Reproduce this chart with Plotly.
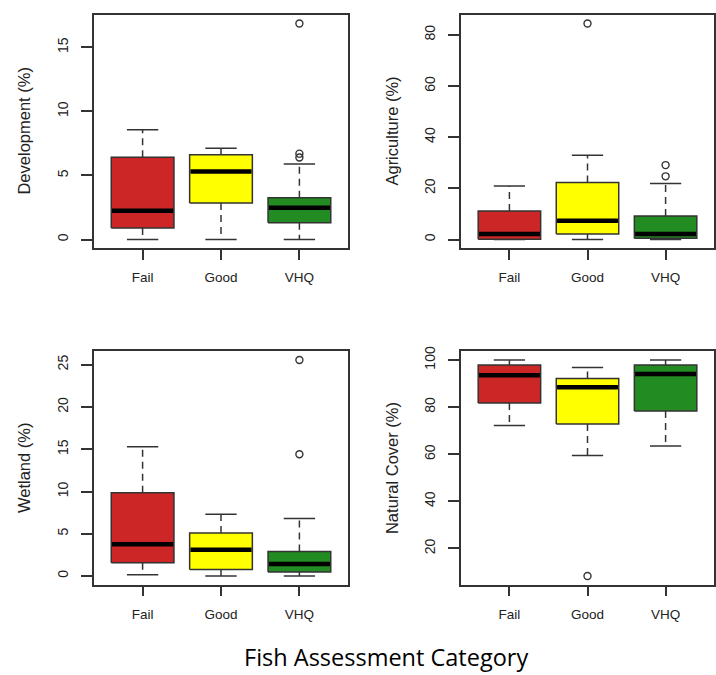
import plotly.graph_objects as go

categories = ["Fail", "Good", "VHQ"]
box_colors = ["#CD2626", "#FFFF00", "#228B22"]

# Development (%)
dev_lower = [0.0, 0.0, 0.0]
dev_q1 = [0.91, 2.85, 1.32]
dev_median = [2.25, 5.31, 2.49]
dev_q3 = [6.42, 6.61, 3.26]
dev_upper = [8.57, 7.12, 5.90]
dev_outliers = [[], [], [6.40, 6.70, 16.85]]
dev_ticks = [0, 5, 10, 15]

# Agriculture (%)
agr_lower = [0.0, 0.0, 0.0]
agr_q1 = [0.1, 2.2, 0.5]
agr_median = [2.2, 7.3, 2.2]
agr_q3 = [11.2, 22.3, 9.2]
agr_upper = [20.9, 32.9, 21.9]
agr_outliers = [[], [84.4], [24.7, 29.1]]
agr_ticks = [0, 20, 40, 60, 80]

# Wetland (%)
wet_lower = [0.16, 0.0, 0.0]
wet_q1 = [1.57, 0.78, 0.47]
wet_median = [3.77, 3.10, 1.41]
wet_q3 = [9.85, 5.10, 2.90]
wet_upper = [15.3, 7.3, 6.8]
wet_outliers = [[], [], [14.4, 25.55]]
wet_ticks = [0, 5, 10, 15, 20, 25]

# Natural Cover (%)
nat_lower = [72.2, 59.5, 63.5]
nat_q1 = [81.8, 72.8, 78.4]
nat_median = [93.5, 88.4, 94.1]
nat_q3 = [97.9, 92.2, 97.9]
nat_upper = [100.0, 96.8, 100.0]
nat_outliers = [[], [8.3], []]
nat_ticks = [20, 40, 60, 80, 100]

panels = [
    ("Development (%)", dev_lower, dev_q1, dev_median, dev_q3, dev_upper, dev_outliers, dev_ticks),
    ("Agriculture (%)", agr_lower, agr_q1, agr_median, agr_q3, agr_upper, agr_outliers, agr_ticks),
    ("Wetland (%)", wet_lower, wet_q1, wet_median, wet_q3, wet_upper, wet_outliers, wet_ticks),
    ("Natural Cover (%)", nat_lower, nat_q1, nat_median, nat_q3, nat_upper, nat_outliers, nat_ticks),
]

W, H = 716, 675
# plot regions in pixels (left, right, top, bottom)
regions = [(94, 348, 10, 245), (461, 714, 10, 245), (94, 348, 349, 584), (461, 714, 349, 584)]
title_x = [24, 392, 24, 392]

BOXW = 0.4
CAPW = 0.2
EDGE = "#333333"

fig = go.Figure()
layout = dict(
    width=W, height=H, margin=dict(l=0, r=0, t=0, b=0),
    paper_bgcolor="white", plot_bgcolor="white", showlegend=False,
    font=dict(family="Liberation Sans, Arial, sans-serif", color="#222222"),
)
annotations = []

for p, (title, lo, q1, med, q3, up, outs, ticks) in enumerate(panels):
    n = p + 1
    xa = "x" if n == 1 else f"x{n}"
    ya = "y" if n == 1 else f"y{n}"
    for i, cat in enumerate(categories):
        xc = i + 1
        # whiskers (dashed)
        fig.add_trace(go.Scatter(
            x=[xc, xc, None, xc, xc], y=[q3[i], up[i], None, q1[i], lo[i]],
            mode="lines", line=dict(color=EDGE, width=1.5, dash="7px,5px"),
            xaxis=xa, yaxis=ya, hoverinfo="skip"))
        # caps
        fig.add_trace(go.Scatter(
            x=[xc - CAPW, xc + CAPW, None, xc - CAPW, xc + CAPW],
            y=[up[i], up[i], None, lo[i], lo[i]],
            mode="lines", line=dict(color=EDGE, width=1.5),
            xaxis=xa, yaxis=ya, hoverinfo="skip"))
        # box
        fig.add_trace(go.Scatter(
            x=[xc - BOXW, xc + BOXW, xc + BOXW, xc - BOXW, xc - BOXW],
            y=[q1[i], q1[i], q3[i], q3[i], q1[i]],
            mode="lines", fill="toself", fillcolor=box_colors[i],
            line=dict(color=EDGE, width=1.5),
            xaxis=xa, yaxis=ya, name=cat))
        # median
        fig.add_trace(go.Scatter(
            x=[xc - BOXW + 0.01, xc + BOXW - 0.01], y=[med[i], med[i]],
            mode="lines", line=dict(color="black", width=4.5),
            xaxis=xa, yaxis=ya, hoverinfo="skip"))
        # outliers
        if outs[i]:
            fig.add_trace(go.Scatter(
                x=[xc] * len(outs[i]), y=outs[i], mode="markers",
                marker=dict(symbol="circle-open", size=7, color=EDGE, line=dict(width=1.4)),
                xaxis=xa, yaxis=ya))

    allv = lo + q1 + med + q3 + up + [v for o in outs for v in o]
    vmin, vmax = min(allv), max(allv)
    pad = (vmax - vmin) * 0.04
    l, r, t, b = regions[p]
    xkey = "xaxis" if n == 1 else f"xaxis{n}"
    ykey = "yaxis" if n == 1 else f"yaxis{n}"
    layout[xkey] = dict(
        domain=[l / W, r / W], anchor=ya, range=[0.38, 3.62],
        tickmode="array", tickvals=[1, 2, 3], ticktext=categories,
        ticks="outside", ticklen=10, tickwidth=1.5, tickcolor=EDGE,
        showline=True, mirror=True, linecolor=EDGE, linewidth=1.6,
        showgrid=False, zeroline=False, fixedrange=True,
        tickfont=dict(size=13.5), ticklabelstandoff=6)
    layout[ykey] = dict(
        domain=[1 - b / H, 1 - t / H], anchor=xa, range=[vmin - pad, vmax + pad],
        tickmode="array", tickvals=ticks, tickangle=-90,
        ticks="outside", ticklen=11, tickwidth=1.5, tickcolor=EDGE,
        showline=True, mirror=True, linecolor=EDGE, linewidth=1.6,
        showgrid=False, zeroline=False, fixedrange=True,
        tickfont=dict(size=14), ticklabelstandoff=8)
    annotations.append(dict(
        text=title, x=title_x[p] / W, y=1 - (t + b) / 2 / H, xref="paper", yref="paper",
        xanchor="center", yanchor="middle", textangle=-90, showarrow=False,
        font=dict(size=16.5, family="Liberation Sans, Arial, sans-serif", color="#222222")))

annotations.append(dict(
    text="Fish Assessment Category", x=386 / W, y=1 - 657 / H, xref="paper", yref="paper",
    xanchor="center", yanchor="middle", showarrow=False,
    font=dict(size=23.5, family="Open Sans, sans-serif", color="black")))

layout["annotations"] = annotations
fig.update_layout(**layout)
fig.write_html("out.html")
